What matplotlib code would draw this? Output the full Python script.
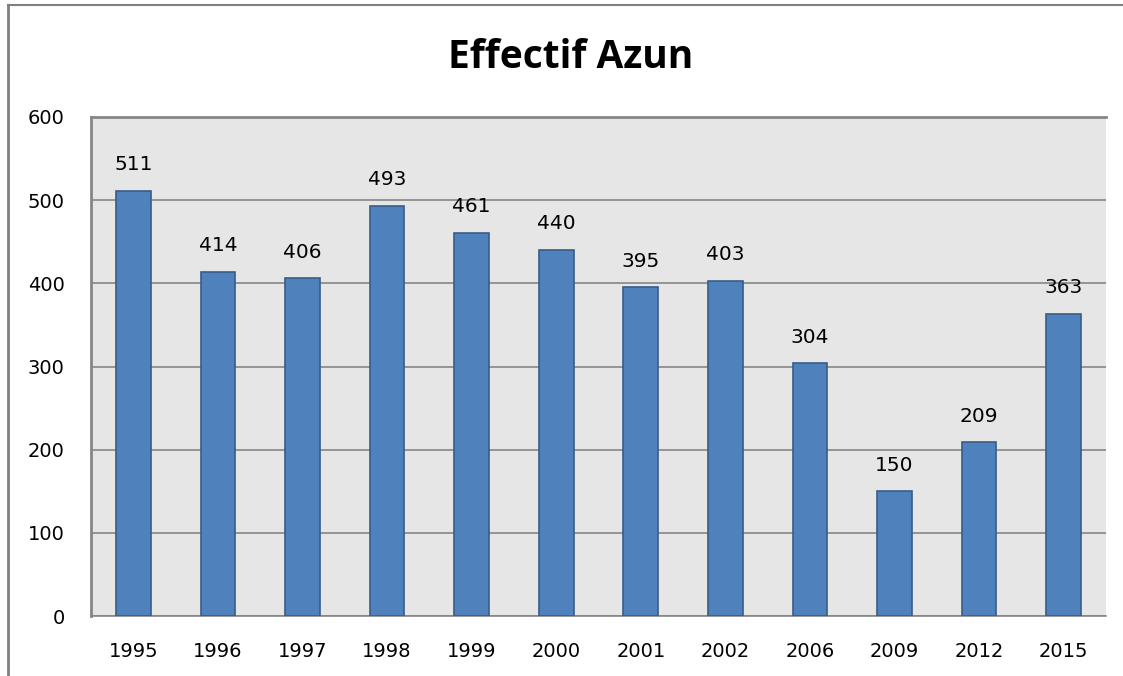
import matplotlib
matplotlib.use("Agg")
import matplotlib.pyplot as plt
from matplotlib.lines import Line2D

years = ["1995", "1996", "1997", "1998", "1999", "2000", "2001", "2002", "2006", "2009", "2012", "2015"]
effectif = [511, 414, 406, 493, 461, 440, 395, 403, 304, 150, 209, 363]
yticks = [0, 100, 200, 300, 400, 500, 600]

W, H = 1123, 676
fig = plt.figure(figsize=(W / 100, H / 100), dpi=100)
fig.patch.set_facecolor("white")

l, r, t, b = 91, 1106, 117, 616
ax = fig.add_axes([l / W, 1 - b / H, (r - l) / W, (b - t) / H])
ax.set_facecolor("#e6e6e6")

x = list(range(len(years)))
ax.bar(x, effectif, width=0.41, color="#4f81bd", edgecolor="#385d8a", linewidth=1.2, zorder=3)
for xi, v in zip(x, effectif):
    ax.annotate(str(v), (xi, v), xytext=(0, 12), textcoords="offset points",
                ha="center", va="bottom", fontsize=14.5, family="DejaVu Sans", color="#000000")

ax.set_xlim(-0.5, len(years) - 0.5)
ax.set_ylim(0, 600)
ax.set_yticks(yticks)
ax.set_xticks(x)
ax.set_xticklabels(years)
ax.yaxis.grid(True, color="#868686", linewidth=1.2, zorder=1)
ax.set_axisbelow(True)
ax.tick_params(length=0, labelsize=14)
ax.tick_params(axis="y", pad=19)
ax.tick_params(axis="x", pad=19)
for lab in ax.get_xticklabels() + ax.get_yticklabels():
    lab.set_family("DejaVu Sans")
for side in ["top", "left"]:
    ax.spines[side].set_color("#868686")
    ax.spines[side].set_linewidth(2)
ax.spines["bottom"].set_color("#868686")
ax.spines["bottom"].set_linewidth(1.2)
ax.spines["right"].set_visible(False)

fig.text(571 / W, 1 - 57 / H, "Effectif Azun", ha="center", va="center",
         fontsize=28, fontweight="bold", family="Open Sans")

# outer chart border (top and left)
fig.add_artist(Line2D([8 / W, 8 / W], [0, 1 - 5 / H], color="#808080", linewidth=2, transform=fig.transFigure))
fig.add_artist(Line2D([8 / W, 1122 / W], [1 - 5 / H, 1 - 5 / H], color="#808080", linewidth=1.5, transform=fig.transFigure))

fig.savefig("out.png", dpi=100)
